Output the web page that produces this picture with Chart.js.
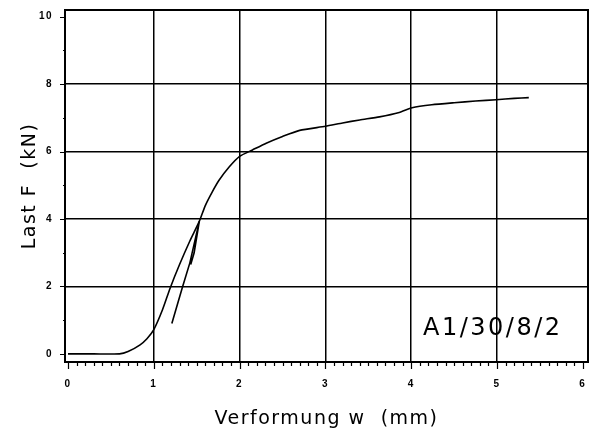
<!DOCTYPE html>
<html>
<head>
<meta charset="utf-8">
<script src="https://cdn.jsdelivr.net/npm/chart.js@4/dist/chart.umd.min.js"></script>
<style>
  html, body { margin: 0; padding: 0; background: #fff; }
  #wrap { width: 594px; height: 438px; }
</style>
</head>
<body>
<div id="wrap"><canvas id="c" width="594" height="438"></canvas></div>
<script>
// ---- data ----
const loadW = [0, 0.3, 0.6, 0.7, 0.84, 0.92, 1.0, 1.1, 1.19, 1.3, 1.42, 1.53, 1.6, 1.68, 1.76, 1.88, 2.0, 2.15, 2.31, 2.5, 2.7, 3.0, 3.2, 3.4, 3.63, 3.86, 4.01, 4.24, 4.5, 4.75, 4.99, 5.2, 5.37];
const loadF = [0, 0, 0, 0.07, 0.27, 0.45, 0.72, 1.3, 1.95, 2.65, 3.35, 3.93, 4.4, 4.8, 5.15, 5.55, 5.86, 6.05, 6.25, 6.45, 6.63, 6.75, 6.85, 6.94, 7.03, 7.16, 7.3, 7.39, 7.45, 7.5, 7.54, 7.58, 7.6];
const loopW = [1.21, 1.33, 1.42, 1.53, 1.47, 1.43];
const loopF = [0.9, 1.95, 2.7, 3.93, 3.0, 2.65];
const xTicks = [0, 1, 2, 3, 4, 5, 6];
const xTickLabels = ['0', '1', '2', '3', '4', '5', '6'];
const yTicks = [0, 2, 4, 6, 8, 10];
const yTickLabels = ['0', '2', '4', '6', '8', '10'];
const xTitle = 'Verformung w  (mm)';
const yTitle = 'Last F  (kN)';
const specimen = 'A1/30/8/2';
const specimenAt = [4.95, 0.74];

const toPts = (xs, ys) => xs.map((x, i) => ({ x: x, y: ys[i] }));

const frameAndTicks = {
  id: 'frameAndTicks',
  beforeDraw(chart) {
    chart.ctx.letterSpacing = '1.5px';
  },
  afterDraw(chart) {
    const ctx = chart.ctx, a = chart.chartArea;
    const xs = chart.scales.x, ys = chart.scales.y;
    ctx.save();
    ctx.strokeStyle = '#000';
    ctx.lineWidth = 2;
    ctx.strokeRect(a.left, a.top, a.right - a.left, a.bottom - a.top);
    ctx.lineWidth = 1.2;
    ctx.beginPath();
    for (let i = 0; i <= 60; i++) {
      const v = i / 10;
      const px = Math.round(xs.getPixelForValue(v)) + 0.5;
      const len = (i % 10 === 0) ? 7 : 4;
      ctx.moveTo(px, a.bottom);
      ctx.lineTo(px, a.bottom + len);
    }
    for (let v = 0; v <= 10; v++) {
      const py = Math.round(ys.getPixelForValue(v)) + 0.5;
      const len = (v % 2 === 0) ? 5 : 2;
      ctx.moveTo(a.left, py);
      ctx.lineTo(a.left - len, py);
    }
    ctx.stroke();
    ctx.fillStyle = '#000';
    ctx.letterSpacing = '2.5px';
    ctx.font = '24px "DejaVu Sans", sans-serif';
    ctx.textAlign = 'center';
    ctx.textBaseline = 'middle';
    ctx.fillText(specimen, xs.getPixelForValue(specimenAt[0]), ys.getPixelForValue(specimenAt[1]));
    ctx.restore();
  }
};

new Chart(document.getElementById('c'), {
  type: 'line',
  data: {
    datasets: [
      { data: toPts(loadW, loadF), borderColor: '#000', borderWidth: 1.6, pointRadius: 0, tension: 0.2, fill: false },
      { data: toPts(loopW, loopF), borderColor: '#000', borderWidth: 1.6, pointRadius: 0, tension: 0, fill: false }
    ]
  },
  options: {
    responsive: false,
    animation: false,
    layout: { padding: { top: 10, right: 6, left: 0, bottom: 0 } },
    plugins: { legend: { display: false }, tooltip: { enabled: false } },
    scales: {
      x: {
        type: 'linear', min: -0.035, max: 6.06,
        afterBuildTicks: s => { s.ticks = xTicks.map(v => ({ value: v })); },
        afterFit: s => { s.height = 76; s.paddingLeft = 0; s.paddingRight = 0; },
        ticks: {
          color: '#000', padding: 16,
          font: { family: '"Liberation Sans", Arial, sans-serif', size: 10, weight: 'bold' },
          callback: (v) => xTickLabels[xTicks.indexOf(v)] ?? ''
        },
        grid: {
          drawTicks: false, lineWidth: 1.5,
          color: c => (c.tick && c.tick.value > 0 && c.tick.value < 6) ? '#000' : 'rgba(0,0,0,0)'
        },
        border: { display: true, color: '#000', width: 2 },
        title: {
          display: true, text: xTitle, color: '#000',
          font: { family: '"DejaVu Sans", sans-serif', size: 19 },
          padding: { top: 0, bottom: 8 }
        }
      },
      y: {
        type: 'linear', min: -0.24, max: 10.2,
        afterBuildTicks: s => { s.ticks = yTicks.map(v => ({ value: v })); },
        afterFit: s => { s.width = 65; s.paddingTop = 0; s.paddingBottom = 0; },
        ticks: {
          color: '#000', padding: 12,
          font: { family: '"Liberation Sans", Arial, sans-serif', size: 10, weight: 'bold' },
          callback: (v) => yTickLabels[yTicks.indexOf(v)] ?? ''
        },
        grid: {
          drawTicks: false, lineWidth: 1.5,
          color: c => (c.tick && c.tick.value > 0 && c.tick.value < 10) ? '#000' : 'rgba(0,0,0,0)'
        },
        border: { display: true, color: '#000', width: 2 },
        title: {
          display: true, text: yTitle, color: '#000',
          font: { family: '"DejaVu Sans", sans-serif', size: 19 },
          padding: { top: 19, bottom: 0 }
        }
      }
    }
  },
  plugins: [frameAndTicks]
});
</script>
</body>
</html>
